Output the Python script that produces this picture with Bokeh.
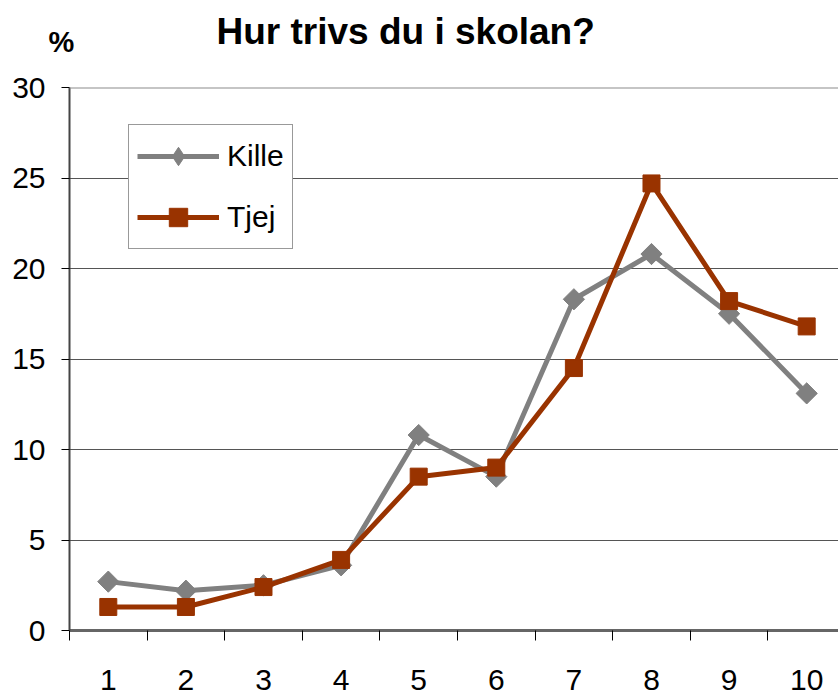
import numpy as np
from bokeh.plotting import figure
from bokeh.layouts import column
from bokeh.models import FixedTicker, Span, ColumnDataSource, Legend, LegendItem
from bokeh.core.properties import value
from bokeh.embed import file_html
from bokeh.resources import INLINE

categories = [1, 2, 3, 4, 5, 6, 7, 8, 9, 10]
kille = [2.7, 2.2, 2.5, 3.6, 10.8, 8.5, 18.3, 20.8, 17.5, 13.1]
tjej = [1.3, 1.3, 2.4, 3.9, 8.5, 9.0, 14.5, 24.7, 18.2, 16.8]
y_ticks = [0, 5, 10, 15, 20, 25, 30]
title_text = "Hur trivs du i skolan?"
y_unit = "%"

FONT = "Liberation Sans"
GRAY = "#808080"
RED = "#993300"
W = 838
HEAD_H = 70

# ---- header strip (title and unit), pixel-like coordinates ----
head = figure(width=W, height=HEAD_H, output_backend="svg", toolbar_location=None,
              x_range=(0, W), y_range=(HEAD_H, 0), x_axis_type=None, y_axis_type=None,
              min_border=0, title=None)
head.frame_align = False
head.outline_line_color = None
head.grid.grid_line_color = None
head.background_fill_color = "white"
head.border_fill_color = "white"
head.text(x=[216], y=[31], text=[title_text], text_font=value(FONT), text_font_size="37px",
          text_font_style="bold", text_align="left", text_baseline="alphabetic",
          text_color="black")
head.text(x=[48], y=[41], text=[y_unit], text_font=value(FONT), text_font_size="29px",
          text_font_style="bold", text_align="left", text_baseline="alphabetic",
          text_color="black")

# ---- main chart ----
p = figure(width=W, height=696 - HEAD_H, output_backend="svg", toolbar_location=None,
           x_range=(0.5, 10.41), y_range=(0, 30))
p.frame_align = False
p.min_border_left = 69
p.min_border_right = 0
p.min_border_top = 17
p.min_border_bottom = 66
p.outline_line_color = None
p.background_fill_color = "white"
p.border_fill_color = "white"

src = ColumnDataSource(dict(x=categories, kille=kille, tjej=tjej))

k_line = p.line("x", "kille", source=src, line_color=GRAY, line_width=5)
k_pts = p.scatter("x", "kille", source=src, marker="square", angle=np.pi / 4, size=15,
                  fill_color=GRAY, line_color=GRAY)
t_line = p.line("x", "tjej", source=src, line_color=RED, line_width=5)
t_pts = p.scatter("x", "tjej", source=src, marker="square", size=17,
                  fill_color=RED, line_color=RED)
# legend-only diamond, placed outside the visible range
k_leg = p.scatter(x=[-10], y=[-10], marker="diamond", size=18, fill_color=GRAY, line_color=GRAY)

# axes
p.xaxis.ticker = FixedTicker(ticks=categories, minor_ticks=[c - 0.5 for c in categories])
p.xaxis.major_tick_out = 0
p.xaxis.major_tick_in = 0
p.xaxis.minor_tick_out = 10
p.xaxis.minor_tick_in = 0
p.xaxis.minor_tick_line_color = "black"
p.xaxis.axis_line_color = "#666666"
p.xaxis.axis_line_width = 3
p.xaxis.major_label_text_font = FONT
p.xaxis.major_label_text_font_size = "30px"
p.xaxis.major_label_text_color = "black"
p.xaxis.major_label_standoff = 29

p.yaxis.ticker = FixedTicker(ticks=y_ticks, minor_ticks=[])
p.yaxis.major_tick_out = 8
p.yaxis.major_tick_in = 0
p.yaxis.major_tick_line_color = "black"
p.yaxis.axis_line_color = "#444444"
p.yaxis.axis_line_width = 2
p.yaxis.major_label_text_font = FONT
p.yaxis.major_label_text_font_size = "30px"
p.yaxis.major_label_text_color = "black"
p.yaxis.major_label_standoff = 16

p.xgrid.grid_line_color = None
p.ygrid.ticker = FixedTicker(ticks=y_ticks[1:-1])
p.ygrid.grid_line_color = "#555555"
p.ygrid.grid_line_width = 1
p.add_layout(Span(location=30, dimension="width", line_color="#8c8c8c", line_width=2))

# legend
lg = Legend(items=[LegendItem(label="Kille", renderers=[k_line, k_leg]),
                   LegendItem(label="Tjej", renderers=[t_line, t_pts])])
lg.location = (59, 381)
lg.orientation = "vertical"
lg.border_line_color = "#333333"
lg.border_line_width = 1
lg.background_fill_color = "white"
lg.background_fill_alpha = 1
lg.label_text_font = FONT
lg.label_text_font_size = "30px"
lg.label_text_color = "black"
lg.glyph_width = 82
lg.glyph_height = 46
lg.spacing = 15
lg.padding = 8
lg.margin = 0
lg.label_standoff = 8
p.add_layout(lg, "center")

layout = column(head, p, spacing=0)
open("out.html", "w").write(file_html(layout, INLINE))
